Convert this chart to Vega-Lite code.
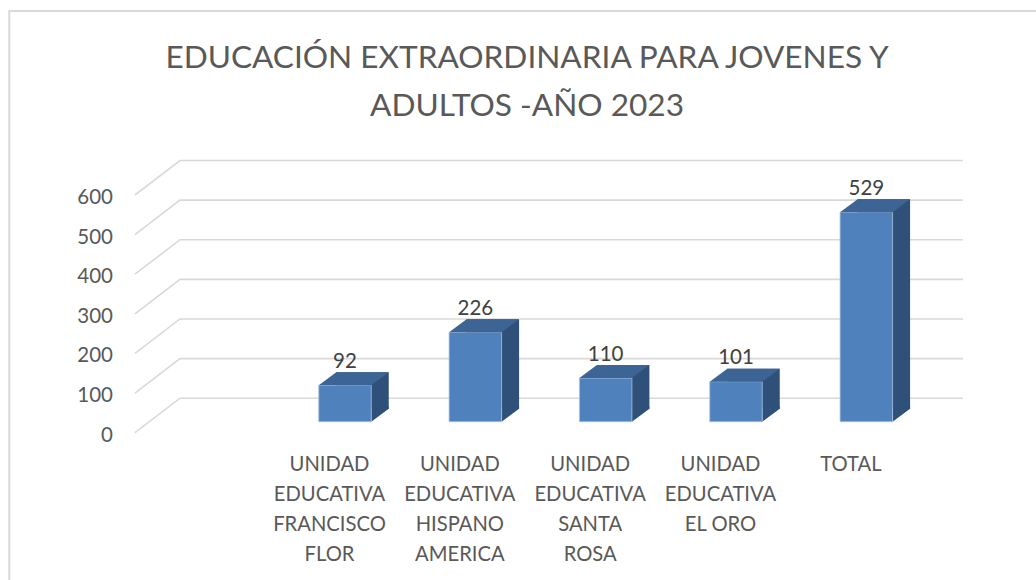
{
  "$schema": "https://vega.github.io/schema/vega-lite/v6.json",
  "width": 1026,
  "height": 569,
  "autosize": {"type": "none"},
  "padding": {"left": 10, "top": 11, "right": 0, "bottom": 0},
  "background": "white",
  "view": {"stroke": null},
  "title": {
    "text": ["EDUCACIÓN EXTRAORDINARIA PARA JOVENES Y", "ADULTOS -AÑO 2023"],
    "font": "Lato",
    "fontSize": 31.6,
    "fontWeight": "normal",
    "color": "#595959",
    "lineHeight": 48,
    "anchor": "middle",
    "dx": 4,
    "offset": -116
  },
  "data": {
    "values": [
      {"unidad": "UNIDAD EDUCATIVA FRANCISCO FLOR", "alumnos": 92},
      {"unidad": "UNIDAD EDUCATIVA HISPANO AMERICA", "alumnos": 226},
      {"unidad": "UNIDAD EDUCATIVA SANTA ROSA", "alumnos": 110},
      {"unidad": "UNIDAD EDUCATIVA EL ORO", "alumnos": 101},
      {"unidad": "TOTAL", "alumnos": 529}
    ]
  },
  "encoding": {
    "x": {
      "field": "unidad",
      "type": "nominal",
      "sort": null,
      "title": null,
      "scale": {
        "type": "band",
        "domain": ["", "UNIDAD EDUCATIVA FRANCISCO FLOR", "UNIDAD EDUCATIVA HISPANO AMERICA", "UNIDAD EDUCATIVA SANTA ROSA", "UNIDAD EDUCATIVA EL ORO", "TOTAL"],
        "range": [125, 907],
        "paddingInner": 0,
        "paddingOuter": 0
      },
      "axis": {
        "orient": "bottom",
        "offset": -126,
        "domain": false,
        "ticks": false,
        "labelAngle": 0,
        "labelFont": "Lato",
        "labelFontSize": 20.2,
        "labelColor": "#595959",
        "labelLineHeight": 30,
        "labelPadding": 0,
        "labelOffset": -1,
        "labelOverlap": false,
        "labelLimit": 400,
        "labelExpr": "split(replace(datum.label, 'EL ORO', 'EL\u00a0ORO'), ' ')"
      }
    },
    "y": {
      "field": "alumnos",
      "type": "quantitative",
      "title": null,
      "scale": {"domain": [0, 600], "range": [421.7, 184], "nice": false, "zero": false},
      "axis": {
        "orient": "left",
        "offset": -125,
        "values": [0, 100, 200, 300, 400, 500, 600],
        "grid": false,
        "domain": false,
        "ticks": false,
        "labelFont": "Lato",
        "labelFontSize": 20.5,
        "labelColor": "#595959",
        "labelPadding": 22.5,
        "labelOffset": 2.5
      }
    }
  },
  "layer": [
    {
      "data": {"values": [{"marco": "borde", "v": 0}]},
      "mark": {"type": "point", "size": 4, "filled": false, "stroke": "#D9D9D9", "strokeWidth": 2, "opacity": 1,
        "shape": "M-190.9,147.3 L-190.9,-421.7 L836,-421.7"},
      "encoding": {
        "x": {"datum": "", "type": "nominal"},
        "y": {"field": "v", "type": "quantitative"}
      }
    },
    {
      "data": {"values": [{"v": 0}, {"v": 100}, {"v": 200}, {"v": 300}, {"v": 400}, {"v": 500}, {"v": 600}]},
      "mark": {"type": "point", "size": 4, "filled": false, "stroke": "#D9D9D9", "strokeWidth": 1.6, "opacity": 1,
        "shape": "M-65.2,0 L-20.2,-34.5 L762.8,-34.5"},
      "encoding": {
        "x": {"datum": "", "type": "nominal"},
        "y": {"field": "v", "type": "quantitative"}
      }
    },
    {
      "mark": {"type": "bar", "width": 52.5, "color": "#2F5078", "xOffset": 32, "x2Offset": 32, "yOffset": -24, "y2Offset": -24},
      "encoding": {"y2": {"datum": 0}}
    },
    {
      "mark": {"type": "point", "size": 4, "filled": true, "fill": "#2F5078", "stroke": null, "opacity": 1, "xOffset": 14.5, "yOffset": -11,
        "shape": "M26.25,0 L43.75,-13 L43.75,-15 L26.25,-15 Z"},
      "encoding": {"y": {"datum": 0, "type": "quantitative"}}
    },
    {
      "mark": {"type": "bar", "width": 52.5, "color": "#4F81BD", "stroke": "#A9C2E0", "strokeWidth": 0.8, "xOffset": 14.5, "x2Offset": 14.5, "yOffset": -11, "y2Offset": -11},
      "encoding": {"y2": {"datum": 0}}
    },
    {
      "mark": {"type": "point", "size": 4, "filled": true, "fill": "#3C6494", "stroke": null, "opacity": 1, "xOffset": 14.5, "yOffset": -11,
        "shape": "M-26.25,0 L26.25,0 L43.75,-13 L-8.75,-13 Z"}
    },
    {
      "mark": {"type": "text", "font": "Lato", "fontSize": 20.5, "color": "#404040", "baseline": "middle", "xOffset": 14.5, "yOffset": -34.5},
      "encoding": {"text": {"field": "alumnos", "type": "quantitative"}}
    }
  ]
}
